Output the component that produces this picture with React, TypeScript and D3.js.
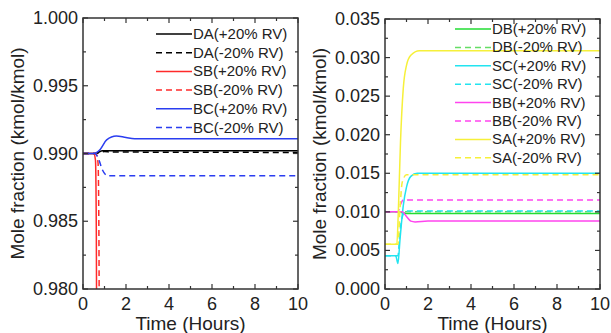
import * as d3 from "d3"

// tick labels
const hourTicks = [0, 2, 4, 6, 8, 10]
const leftTicks = [0.98, 0.985, 0.99, 0.995, 1.0]
const rightTicks = [0, 0.005, 0.01, 0.015, 0.02, 0.025, 0.03, 0.035]

// left panel (main components)
const tDAp = [0, 0.55, 0.7, 0.9, 1.1, 10]
const vDAp = [0.99, 0.99, 0.99008, 0.9902, 0.9902, 0.9902]
const tDAm = [0, 0.6, 0.8, 1.0, 1.3, 10]
const vDAm = [0.99, 0.99, 0.99008, 0.99014, 0.99011, 0.99008]
const tSBp = [0, 0.5, 0.58, 0.62, 0.64]
const vSBp = [0.99, 0.99, 0.9895, 0.984, 0.975]
const tSBm = [0, 0.6, 0.7, 0.74, 0.76]
const vSBm = [0.99, 0.99, 0.9893, 0.984, 0.975]
const tBCp = [0, 0.45, 0.6, 0.8, 1.1, 1.55, 2.0, 2.6, 10]
const vBCp = [0.99, 0.99, 0.99005, 0.9903, 0.9910, 0.99129, 0.99118, 0.99108, 0.99108]
const tBCm = [0, 0.55, 0.7, 0.9, 1.15, 10]
const vBCm = [0.99, 0.99, 0.9897, 0.9888, 0.98835, 0.98835]

// right panel (minor components)
const tDBp = [0, 0.6, 0.8, 1.0, 10]
const vDBp = [0.01, 0.01, 0.0099, 0.0098, 0.0098]
const tDBm = [0, 0.6, 0.8, 1.0, 10]
const vDBm = [0.01, 0.01, 0.01, 0.01, 0.01]
const tSCp = [0, 0.5, 0.6, 0.7, 0.85, 1.0, 1.2, 1.5, 10]
const vSCp = [0.0043, 0.0043, 0.0033, 0.0065, 0.0108, 0.0132, 0.0146, 0.015, 0.015]
const tSCm = [0, 0.6, 0.7, 0.85, 1.0, 10]
const vSCm = [0.0043, 0.0043, 0.0075, 0.0097, 0.0101, 0.0101]
const tBBp = [0, 0.8, 1.0, 1.2, 1.4, 2.0, 10]
const vBBp = [0.01, 0.01, 0.0094, 0.0088, 0.0087, 0.0088, 0.0088]
const tBBm = [0, 0.6, 0.7, 0.85, 1.0, 10]
const vBBm = [0.01, 0.01, 0.0108, 0.01155, 0.01155, 0.01155]
const tSAp = [0, 0.55, 0.62, 0.72, 0.85, 1.0, 1.2, 1.6, 10]
const vSAp = [0.0058, 0.0058, 0.01, 0.019, 0.026, 0.029, 0.0303, 0.0309, 0.0309]
const tSAm = [0, 0.6, 0.7, 0.8, 1.0, 10]
const vSAm = [0.0058, 0.0058, 0.0105, 0.0138, 0.0148, 0.0148]

interface Series {
  label: string
  color: string
  dash?: string
  t: number[]
  v: number[]
}

const DASH = "6,4"

const leftSeries: Series[] = [
  { label: "DA(+20% RV)", color: "#000000", t: tDAp, v: vDAp },
  { label: "DA(-20% RV)", color: "#000000", dash: DASH, t: tDAm, v: vDAm },
  { label: "SB(+20% RV)", color: "#ff2a2a", t: tSBp, v: vSBp },
  { label: "SB(-20% RV)", color: "#ff2a2a", dash: DASH, t: tSBm, v: vSBm },
  { label: "BC(+20% RV)", color: "#2a3df0", t: tBCp, v: vBCp },
  { label: "BC(-20% RV)", color: "#2a3df0", dash: DASH, t: tBCm, v: vBCm },
]

const rightSeries: Series[] = [
  { label: "DB(+20% RV)", color: "#22dd33", t: tDBp, v: vDBp },
  { label: "DB(-20% RV)", color: "#66dd66", dash: DASH, t: tDBm, v: vDBm },
  { label: "SC(+20% RV)", color: "#22e4f0", t: tSCp, v: vSCp },
  { label: "SC(-20% RV)", color: "#22e4f0", dash: DASH, t: tSCm, v: vSCm },
  { label: "BB(+20% RV)", color: "#ff44ee", t: tBBp, v: vBBp },
  { label: "BB(-20% RV)", color: "#ff44ee", dash: DASH, t: tBBm, v: vBBm },
  { label: "SA(+20% RV)", color: "#f6f03a", t: tSAp, v: vSAp },
  { label: "SA(-20% RV)", color: "#f6f03a", dash: DASH, t: tSAm, v: vSAm },
]

const FONT = "'Liberation Sans', Arial, sans-serif"
const TEXT = "#222"
const AXIS = "#333"

interface PanelProps {
  id: string
  left: number
  right: number
  top: number
  bottom: number
  yDomain: [number, number]
  yTicks: number[]
  yStep: number
  series: Series[]
  legendX: number
  legendY: number
  legendStep: number
  titleX: number
}

function Panel(p: PanelProps) {
  const x = d3.scaleLinear().domain([0, 10]).range([p.left, p.right])
  const y = d3.scaleLinear().domain(p.yDomain).range([p.bottom, p.top])
  const line = d3
    .line<[number, number]>()
    .x(d => x(d[0]))
    .y(d => y(d[1]))
    .curve(d3.curveMonotoneX)

  const minorX = d3.range(1, 10, 2)
  const minorY = p.yTicks.slice(0, -1).map(t => t + p.yStep / 2)
  const major = 5
  const minor = 3

  return (
    <g>
      <defs>
        <clipPath id={p.id}>
          <rect x={p.left} y={p.top} width={p.right - p.left} height={p.bottom - p.top} />
        </clipPath>
      </defs>

      <g clipPath={`url(#${p.id})`}>
        {p.series.map(s => (
          <path
            key={s.label}
            d={line(s.t.map((t, i) => [t, s.v[i]] as [number, number])) || ""}
            fill="none"
            stroke={s.color}
            strokeWidth={1.5}
            strokeDasharray={s.dash}
          />
        ))}
      </g>

      {/* frame and inward ticks */}
      <rect
        x={p.left}
        y={p.top}
        width={p.right - p.left}
        height={p.bottom - p.top}
        fill="none"
        stroke={AXIS}
        strokeWidth={1.5}
      />
      <g stroke={AXIS} strokeWidth={1.2}>
        {hourTicks.map(t => (
          <g key={"hx" + t}>
            <line x1={x(t)} x2={x(t)} y1={p.bottom} y2={p.bottom - major} />
            <line x1={x(t)} x2={x(t)} y1={p.top} y2={p.top + major} />
          </g>
        ))}
        {minorX.map(t => (
          <g key={"mx" + t}>
            <line x1={x(t)} x2={x(t)} y1={p.bottom} y2={p.bottom - minor} />
            <line x1={x(t)} x2={x(t)} y1={p.top} y2={p.top + minor} />
          </g>
        ))}
        {p.yTicks.map(t => (
          <g key={"hy" + t}>
            <line x1={p.left} x2={p.left + major} y1={y(t)} y2={y(t)} />
            <line x1={p.right} x2={p.right - major} y1={y(t)} y2={y(t)} />
          </g>
        ))}
        {minorY.map(t => (
          <g key={"my" + t}>
            <line x1={p.left} x2={p.left + minor} y1={y(t)} y2={y(t)} />
            <line x1={p.right} x2={p.right - minor} y1={y(t)} y2={y(t)} />
          </g>
        ))}
      </g>

      {/* tick labels */}
      <g fontFamily={FONT} fontSize={18} fill={TEXT}>
        {hourTicks.map(t => (
          <text key={"lx" + t} x={x(t)} y={p.bottom + 21} textAnchor="middle">
            {t}
          </text>
        ))}
        {p.yTicks.map(t => (
          <text key={"ly" + t} x={p.left - 5} y={y(t) + 6} textAnchor="end">
            {d3.format(".3f")(t)}
          </text>
        ))}
      </g>

      {/* axis titles */}
      <text
        x={(p.left + p.right) / 2}
        y={p.bottom + 41}
        textAnchor="middle"
        fontFamily={FONT}
        fontSize={19}
        fill={TEXT}
      >
        Time (Hours)
      </text>
      <text
        transform={`translate(${p.titleX},${(p.top + p.bottom) / 2}) rotate(-90)`}
        textAnchor="middle"
        fontFamily={FONT}
        fontSize={19}
        fill={TEXT}
      >
        Mole fraction (kmol/kmol)
      </text>

      {/* legend */}
      <g fontFamily={FONT} fontSize={15} fill={TEXT}>
        {p.series.map((s, i) => {
          const ly = p.legendY + i * p.legendStep
          return (
            <g key={"lg" + s.label}>
              <line
                x1={p.legendX}
                x2={p.legendX + 36}
                y1={ly}
                y2={ly}
                stroke={s.color}
                strokeWidth={1.5}
                strokeDasharray={s.dash}
              />
              <text x={p.legendX + 37} y={ly + 5}>
                {s.label}
              </text>
            </g>
          )
        })}
      </g>
    </g>
  )
}

export default function App() {
  return (
    <svg
      width={611}
      height={333}
      style={{ position: "absolute", left: 0, top: 0, background: "#fff" }}
    >
      <Panel
        id="clipL"
        left={83}
        right={298}
        top={18}
        bottom={289}
        yDomain={[0.98, 1.0]}
        yTicks={leftTicks}
        yStep={0.005}
        series={leftSeries}
        legendX={156}
        legendY={34}
        legendStep={18.7}
        titleX={24}
      />
      <Panel
        id="clipR"
        left={385}
        right={600}
        top={19}
        bottom={289}
        yDomain={[0, 0.035]}
        yTicks={rightTicks}
        yStep={0.005}
        series={rightSeries}
        legendX={455}
        legendY={29}
        legendStep={18.4}
        titleX={326}
      />
    </svg>
  )
}
